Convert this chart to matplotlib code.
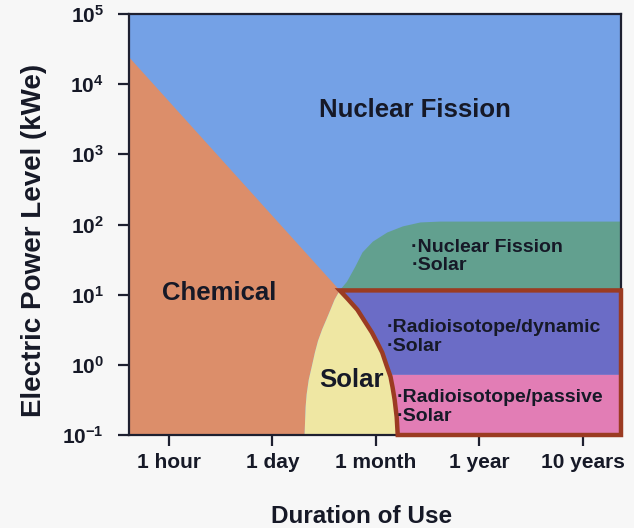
import numpy as np
import matplotlib.pyplot as plt
from matplotlib.patches import Polygon

plt.rcParams['font.family'] = ['Liberation Sans', 'DejaVu Sans']
plt.rcParams['font.weight'] = 'bold'
plt.rcParams['mathtext.fontset'] = 'custom'
plt.rcParams['mathtext.rm'] = 'Liberation Sans:bold'
plt.rcParams['mathtext.it'] = 'Liberation Sans:bold'
plt.rcParams['mathtext.bf'] = 'Liberation Sans:bold'

# axis ticks
durations = ['1 hour', '1 day', '1 month', '1 year', '10 years']
duration_pos = [1, 2, 3, 4, 5]
power_ticks = [1e-1, 1e0, 1e1, 1e2, 1e3, 1e4, 1e5]
power_labels = [r'$10^{-1}$', r'$10^{0}$', r'$10^{1}$', r'$10^{2}$',
                r'$10^{3}$', r'$10^{4}$', r'$10^{5}$']

# region boundaries (x = duration tick index, y = kWe)
chem_start_x, chem_start_p = 0.614, 24300
solar_left_x = [2.65, 2.60, 2.56, 2.52, 2.48, 2.44, 2.41, 2.38, 2.35, 2.33, 2.32, 2.31]
solar_left_p = [11.5, 8.5, 6.1, 4.4, 3.2, 2.2, 1.5, 0.95, 0.61, 0.38, 0.25, 0.1]
radio_edge_x = [2.65, 2.73, 2.82, 2.89, 2.96, 3.01, 3.06, 3.10, 3.14, 3.16, 3.18, 3.20, 3.21]
radio_edge_p = [11.5, 8.6, 6.1, 4.2, 2.9, 2.1, 1.5, 1.0, 0.68, 0.48, 0.32, 0.18, 0.1]
fission_solar_x = [2.65, 2.72, 2.80, 2.87, 2.97, 3.11, 3.26, 3.43, 3.62]
fission_solar_p = [11.5, 15.3, 25, 40, 57, 77, 94, 107, 110]
radio_top = 11.5
passive_top = 0.72

xmin, xmax = 0.614, 5.367
ymin, ymax = 0.1, 1e5

c_blue = '#74a1e6'
c_orange = '#dc8e6a'
c_yellow = '#efe7a3'
c_teal = '#62a08f'
c_purple = '#6b6cc6'
c_pink = '#e27db5'
c_brown = '#9b3b22'
c_text = '#161927'
c_axis = '#1e2030'

fig = plt.figure(figsize=(6.34, 5.28), dpi=100, facecolor='#f7f7f7')
ax = fig.add_axes([129/634, (528-435)/528, 492/634, 421/528])
ax.set_yscale('log')
ax.set_xlim(xmin, xmax)
ax.set_ylim(ymin, ymax)
ax.set_facecolor(c_blue)

def add_poly(pts, color, z):
    ax.add_patch(Polygon(pts, closed=True, facecolor=color, edgecolor='none', zorder=z))

# chemical
orange_pts = [(xmin, chem_start_p)] + list(zip(solar_left_x, solar_left_p)) + [(xmin, ymin)]
add_poly(orange_pts, c_orange, 1)

# solar
yellow_pts = list(zip(solar_left_x, solar_left_p)) + list(zip(radio_edge_x, radio_edge_p))[::-1]
add_poly(yellow_pts, c_yellow, 1)

# nuclear fission + solar
teal_pts = list(zip(fission_solar_x, fission_solar_p)) + [(xmax, fission_solar_p[-1]), (xmax, radio_top)]
add_poly(teal_pts, c_teal, 1)

# split the radioisotope edge at the dynamic/passive border
log_p = np.log10(radio_edge_p)[::-1]
x_split = np.interp(np.log10(passive_top), log_p, radio_edge_x[::-1])
upper = [(x, p) for x, p in zip(radio_edge_x, radio_edge_p) if p > passive_top]
lower = [(x, p) for x, p in zip(radio_edge_x, radio_edge_p) if p < passive_top]

purple_pts = upper + [(x_split, passive_top), (xmax, passive_top), (xmax, radio_top)]
add_poly(purple_pts, c_purple, 1)
pink_pts = [(x_split, passive_top)] + lower + [(xmax, ymin), (xmax, passive_top)]
add_poly(pink_pts, c_pink, 1)

outline = list(zip(radio_edge_x, radio_edge_p)) + [(xmax, ymin), (xmax, radio_top)]
ax.add_patch(Polygon(outline, closed=True, fill=False, edgecolor=c_brown,
                     linewidth=3.2, joinstyle='miter', zorder=5, clip_on=False))

# labels
ax.text(3.38, 4300, 'Nuclear Fission', ha='center', va='center', fontsize=18.5, color=c_text, zorder=6)
ax.text(1.49, 10.7, 'Chemical', ha='center', va='center', fontsize=18.5, color=c_text, zorder=6)
ax.text(2.76, 0.6, 'Solar', ha='center', va='center', fontsize=18.5, color=c_text, zorder=6)
ax.text(3.34, 35, '\u00b7Nuclear Fission\n\u00b7Solar', ha='left', va='center',
        fontsize=14, linespacing=1.1, color=c_text, zorder=6)
ax.text(3.10, 2.5, '\u00b7Radioisotope/dynamic\n\u00b7Solar', ha='left', va='center',
        fontsize=14, linespacing=1.1, color=c_text, zorder=6)
ax.text(3.20, 0.25, '\u00b7Radioisotope/passive\n\u00b7Solar', ha='left', va='center',
        fontsize=14, linespacing=1.1, color=c_text, zorder=6)

ax.set_xticks(duration_pos, durations)
ax.set_yticks(power_ticks, power_labels)
ax.yaxis.set_minor_locator(plt.NullLocator())
ax.tick_params(axis='both', direction='out', length=8, width=1.6, color=c_axis,
               labelsize=15, labelcolor=c_text)
ax.tick_params(axis='x', pad=5)
ax.tick_params(axis='y', pad=10)
for s in ax.spines.values():
    s.set_color(c_axis)
    s.set_linewidth(1.6)

ax.set_xlabel('Duration of Use', fontsize=17.5, fontweight='bold', color=c_text)
ax.xaxis.set_label_coords(0.472, -0.166)
ax.set_ylabel('Electric Power Level (kWe)', fontsize=20, fontweight='bold', color=c_text)
ax.yaxis.set_label_coords(-0.166, 0.463)

fig.savefig('out.png', dpi=100, facecolor=fig.get_facecolor())
